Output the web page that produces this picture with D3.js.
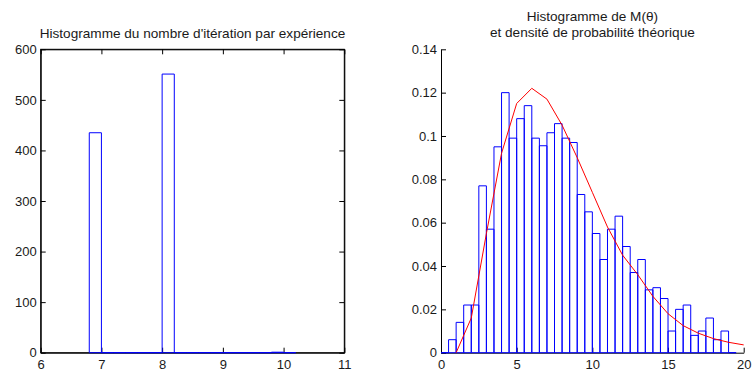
<!DOCTYPE html>
<html>
<head>
<meta charset="utf-8">
<script src="https://cdn.jsdelivr.net/npm/d3@7"></script>
<style>
  html, body { margin: 0; padding: 0; background: #fff; }
  svg { display: block; font-family: "Liberation Sans", Arial, Helvetica, sans-serif; }
</style>
</head>
<body>
<svg id="chart" width="754" height="373"></svg>
<script>
// ---------- DATA ----------
// Left histogram: number of iterations per experiment
const iterBinEdges = [6.8, 7.0, 7.2, 7.4, 7.6, 7.8, 8.0, 8.2, 8.4, 8.6, 8.8, 9.0, 9.2, 9.4, 9.6, 9.8, 10.0, 10.2];
const iterCounts   = [435, 0, 0, 0, 0, 0, 551, 0, 0, 0, 0, 0, 0, 0, 0, 1, 0];
const iterXTicks = [6, 7, 8, 9, 10, 11];
const iterYTicks = [0, 100, 200, 300, 400, 500, 600];
const leftTitle = "Histogramme du nombre d'itération par expérience";

// Right histogram: M(theta) empirical density
const mBinEdges = [0, 0.5, 1, 1.5, 2, 2.5, 3, 3.5, 4, 4.5, 5, 5.5, 6, 6.5, 7, 7.5, 8, 8.5, 9, 9.5,
                   10, 10.5, 11, 11.5, 12, 12.5, 13, 13.5, 14, 14.5, 15, 15.5, 16, 16.5, 17, 17.5, 18, 18.5, 19, 19.5];
const mDensity = [0, 0.006, 0.014, 0.022, 0.022, 0.077, 0.057, 0.095, 0.120, 0.099,
                  0.108, 0.114, 0.099, 0.0955, 0.1015, 0.1057, 0.099, 0.097, 0.073, 0.065,
                  0.055, 0.043, 0.057, 0.063, 0.049, 0.037, 0.043, 0.029, 0.030, 0.025,
                  0.010, 0.020, 0.022, 0.008, 0.010, 0.016, 0.006, 0.010, 0];
// Theoretical density
const theoX = [1, 2, 3, 4, 5, 6, 7, 8, 9, 10, 11, 12, 13, 14, 15, 16, 17, 18, 19, 20];
const theoY = [0, 0.016, 0.055, 0.092, 0.115, 0.122, 0.117, 0.105, 0.090, 0.074,
               0.058, 0.045, 0.036, 0.026, 0.018, 0.0125, 0.009, 0.0065, 0.0048, 0.0036];
const mXTicks = [0, 5, 10, 15, 20];
const mYTicks = [0, 0.02, 0.04, 0.06, 0.08, 0.1, 0.12, 0.14];
const rightTitle = ["Histogramme de M(θ)", "et densité de probabilité théorique"];

// ---------- DRAW ----------
const svg = d3.select("#chart");
const tickFont = 13;
const titleFont = 13.6;

function histBars(g, edges, vals, x, y) {
  const bins = vals.map((v, i) => ({ x0: edges[i], x1: edges[i + 1], v }));
  g.selectAll("path.bar").data(bins).enter().append("path")
    .attr("class", "bar")
    .attr("d", d => {
      const a = x(d.x0), b = x(d.x1), t = y(d.v), z = y(0);
      return `M${a},${z}V${t}H${b}V${z}Z`;
    })
    .attr("fill", "none")
    .attr("stroke", "#0000ff")
    .attr("stroke-width", 1);
}

function styleAxis(g) {
  g.selectAll("path.domain").attr("stroke", "#000");
  g.selectAll(".tick line").attr("stroke", "#000");
  g.selectAll(".tick text").attr("fill", "#1a1a1a")
    .style("font-size", tickFont + "px")
    .style("font-family", '"Liberation Sans", Arial, sans-serif');
}

// Left panel
{
  const x = d3.scaleLinear().domain([6, 11]).range([40.7, 344.3]);
  const y = d3.scaleLinear().domain([0, 600]).range([352.7, 49.3]);
  const g = svg.append("g");

  g.append("rect").attr("x", x(6)).attr("y", y(600))
    .attr("width", x(11) - x(6)).attr("height", y(0) - y(600))
    .attr("fill", "none").attr("stroke", "#000").attr("stroke-width", 1);

  const ax = g.append("g").attr("transform", `translate(0,${y(0)})`)
    .call(d3.axisBottom(x).tickValues(iterXTicks).tickFormat(d3.format("d")).tickSizeInner(-5).tickSizeOuter(0).tickPadding(7));
  styleAxis(ax);
  const axT = g.append("g").attr("transform", `translate(0,${y(600)})`)
    .call(d3.axisTop(x).tickValues(iterXTicks).tickFormat("").tickSizeInner(-5).tickSizeOuter(0));
  styleAxis(axT);
  const ay = g.append("g").attr("transform", `translate(${x(6)},0)`)
    .call(d3.axisLeft(y).tickValues(iterYTicks).tickFormat(d3.format("d")).tickSizeInner(-5).tickSizeOuter(0).tickPadding(4));
  styleAxis(ay);
  const ayR = g.append("g").attr("transform", `translate(${x(11)},0)`)
    .call(d3.axisRight(y).tickValues(iterYTicks).tickFormat("").tickSizeInner(-5).tickSizeOuter(0));
  styleAxis(ayR);

  histBars(g, iterBinEdges, iterCounts, x, y);

  g.append("text").attr("x", (x(6) + x(11)) / 2).attr("y", 38)
    .attr("text-anchor", "middle").style("font-size", titleFont + "px").attr("fill", "#1a1a1a")
    .text(leftTitle);
}

// Right panel
{
  const x = d3.scaleLinear().domain([0, 20]).range([441, 743.7]);
  const y = d3.scaleLinear().domain([0, 0.14]).range([352.7, 49.3]);
  const g = svg.append("g");

  const ax = g.append("g").attr("transform", `translate(0,${y(0)})`)
    .call(d3.axisBottom(x).tickValues(mXTicks).tickFormat(d3.format("d")).tickSizeInner(-5).tickSizeOuter(0).tickPadding(7));
  styleAxis(ax);
  const ay = g.append("g").attr("transform", `translate(${x(0)},0)`)
    .call(d3.axisLeft(y).tickValues(mYTicks).tickFormat(d => d === 0 ? "0" : String(+d.toFixed(2))).tickSizeInner(-5).tickSizeOuter(0).tickPadding(4));
  styleAxis(ay);

  histBars(g, mBinEdges, mDensity, x, y);

  const line = d3.line().x((d, i) => x(theoX[i])).y(d => y(d));
  g.append("path").datum(theoY).attr("d", line)
    .attr("fill", "none").attr("stroke", "#ff0000").attr("stroke-width", 1);

  const cx = (x(0) + x(20)) / 2;
  g.append("text").attr("x", cx).attr("y", 21).attr("text-anchor", "middle")
    .style("font-size", titleFont + "px").attr("fill", "#1a1a1a").text(rightTitle[0]);
  g.append("text").attr("x", cx).attr("y", 37).attr("text-anchor", "middle")
    .style("font-size", titleFont + "px").attr("fill", "#1a1a1a").text(rightTitle[1]);
}
</script>
</body>
</html>
